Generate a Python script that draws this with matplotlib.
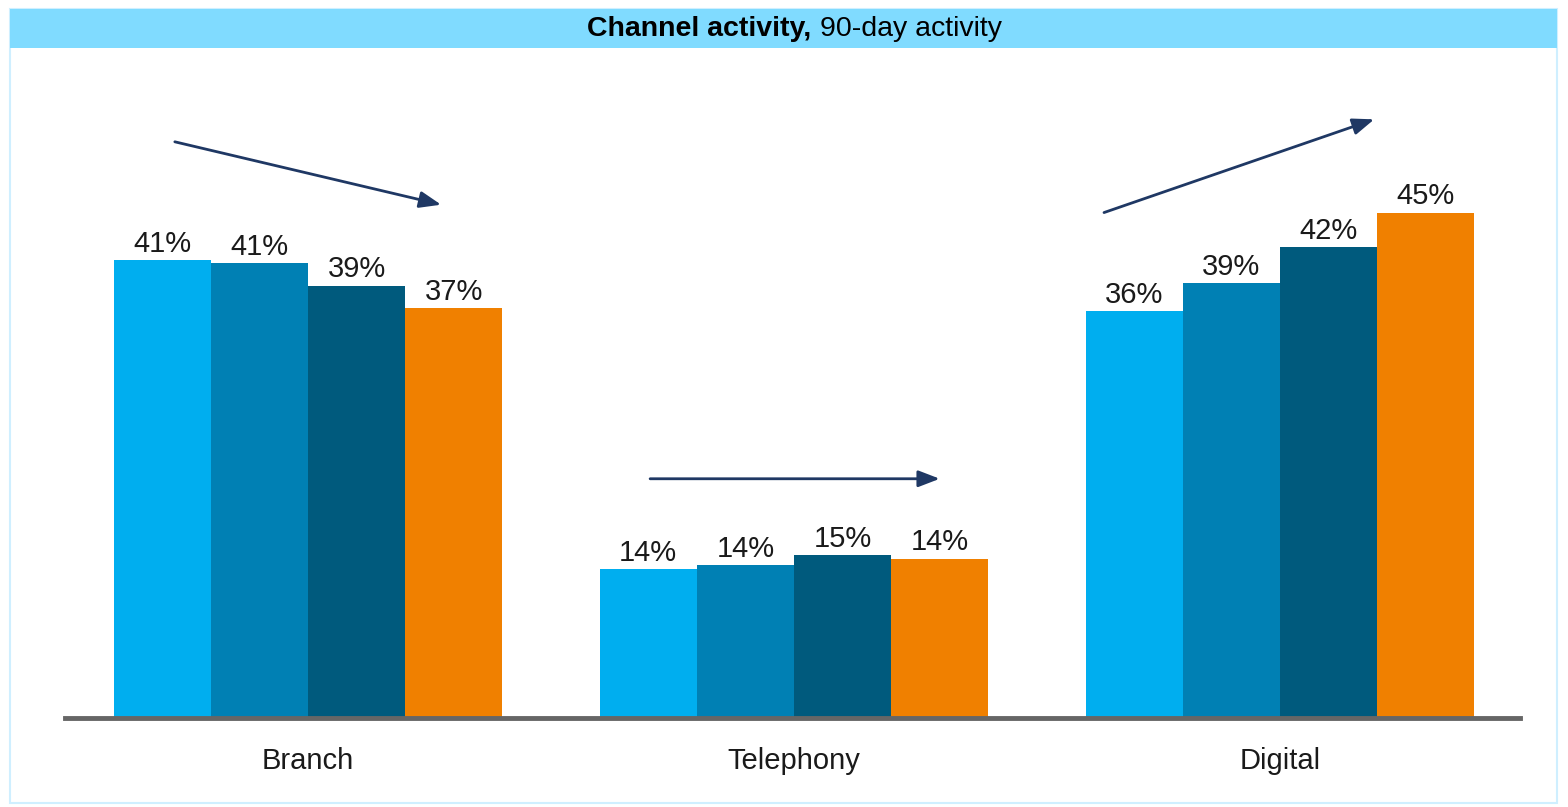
import matplotlib.pyplot as plt
from matplotlib.patches import Rectangle

# data
categories = ["Branch", "Telephony", "Digital"]
series_colors = ["#00AEEF", "#0080B4", "#005A7D", "#F08000"]
values = [
    [40.8, 40.5, 38.5, 36.5],   # Branch
    [13.3, 13.6, 14.5, 14.2],   # Telephony
    [36.2, 38.7, 41.9, 45.0],   # Digital
]
labels = [
    ["41%", "41%", "39%", "37%"],
    ["14%", "14%", "15%", "14%"],
    ["36%", "39%", "42%", "45%"],
]
# trend arrows per group: (x0, y0, x1, y1) relative to group centre
trend_arrows = [
    (-1.37, 51.3, 1.37, 45.7),
    (-1.48, 21.3, 1.50, 21.3),
    (-1.81, 45.0, 0.97, 53.3),
]

fig = plt.figure(figsize=(15.68, 8.07), dpi=100)
W, H = 1568, 807

# outer frame + title band
fig.patches.append(Rectangle((10 / W, 4 / H), 1547 / W, 794 / H, transform=fig.transFigure,
                             facecolor="white", edgecolor="#CFEFFF", lw=1.5, zorder=0))
fig.patches.append(Rectangle((10 / W, (H - 48) / H), 1547 / W, 39 / H, transform=fig.transFigure,
                             facecolor="#80DBFF", edgecolor="none", zorder=1))
fig.text(811 / W, (H - 29) / H, "Channel activity,", ha="right", va="center",
         fontsize=20.5, fontweight="bold", color="black", family="Liberation Sans")
fig.text(820 / W, (H - 29) / H, "90-day activity", ha="left", va="center",
         fontsize=20.5, color="black", family="Liberation Sans")

ax = fig.add_axes([65 / W, 89 / H, 1455 / W, 620 / H])
ax.set_zorder(5)
ax.set_facecolor("none")
ax.set_xlim(-2.5, 12.47)
ax.set_ylim(0, 55.2)

centres = [0, 5, 10]
offsets = [-1.5, -0.5, 0.5, 1.5]
for gi, c in enumerate(centres):
    for si, off in enumerate(offsets):
        v = values[gi][si]
        ax.bar(c + off, v, width=1.0, color=series_colors[si], edgecolor="none", zorder=2)
        ax.annotate(labels[gi][si], (c + off, v), xytext=(0, 1.5), textcoords="offset points",
                    ha="center", va="bottom", fontsize=21, color="#1a1a1a", family="Liberation Sans")
    x0, y0, x1, y1 = trend_arrows[gi]
    ax.annotate("", xy=(c + x1, y1), xytext=(c + x0, y0),
                arrowprops=dict(arrowstyle="-|>,head_length=1.3,head_width=0.5",
                                color="#1F3864", lw=2, shrinkA=0, shrinkB=0))

for s in ["top", "right", "left"]:
    ax.spines[s].set_visible(False)
ax.spines["bottom"].set_color("#666666")
ax.spines["bottom"].set_linewidth(3.5)
ax.spines["bottom"].set_zorder(3)
ax.set_yticks([])
ax.set_xticks(centres)
ax.set_xticklabels(categories, fontsize=21, family="Liberation Sans", color="#1a1a1a")
ax.tick_params(axis="x", length=0, pad=21)

fig.savefig("out.png", dpi=100)
